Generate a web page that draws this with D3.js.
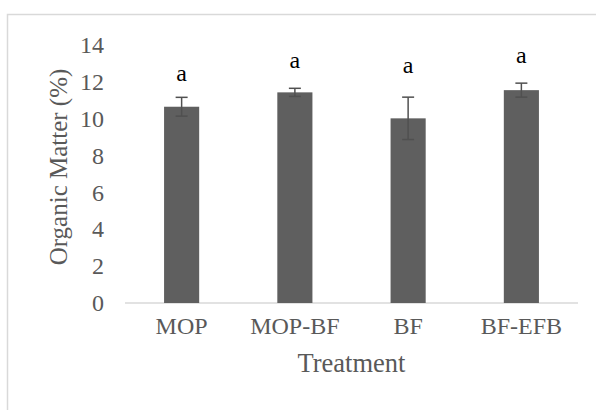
<!DOCTYPE html>
<html>
<head>
<meta charset="utf-8">
<script src="https://cdn.jsdelivr.net/npm/d3@7"></script>
<style>
  body { margin: 0; background: #fff; }
  text { font-family: "Liberation Serif", "Times New Roman", serif; }
</style>
</head>
<body>
<div id="chart"></div>
<script>
// chart size, same as the window
const width = 596;
const height = 410;
const margin = {left: 125, right: 18, top: 45, bottom: 107};

// data
const treatments = ["MOP", "MOP-BF", "BF", "BF-EFB"];
const organicMatter = [10.65, 11.43, 10.02, 11.55];
const stdError = [0.51, 0.22, 1.15, 0.38];
const letters = ["a", "a", "a", "a"];
const letterHeight = [12.06, 12.73, 12.5, 13.0]; // where the letters sit, in % units
const yTicks = [0, 2, 4, 6, 8, 10, 12, 14];

const svg = d3.select("#chart")
  .append("svg")
  .attr("width", width)
  .attr("height", height)
  .attr("viewBox", [0, 0, width, height]);

// light frame round the chart (cut off on the right and bottom)
svg.append("rect")
  .attr("x", 7.5)
  .attr("y", 14.5)
  .attr("width", 700)
  .attr("height", 500)
  .attr("fill", "none")
  .attr("stroke", "#d9d9d9")
  .attr("stroke-width", 1.5);

// scales
const yScale = d3.scaleLinear()
  .domain([0, 14])
  .range([height - margin.bottom, margin.top]);

const xScale = d3.scaleBand()
  .domain(treatments)
  .range([margin.left, width - margin.right])
  .paddingInner(0.69)
  .paddingOuter(0.345);

// y axis: labels only, no line
const yAxis = svg.append("g")
  .attr("transform", `translate(${margin.left}, 0)`)
  .call(d3.axisLeft(yScale).tickValues(yTicks).tickSize(0).tickPadding(21));
yAxis.select(".domain").remove();
yAxis.selectAll("text")
  .attr("font-size", "24px")
  .attr("fill", "#595959");

// x axis: baseline + category labels
const xAxis = svg.append("g")
  .attr("transform", `translate(0, ${height - margin.bottom})`)
  .call(d3.axisBottom(xScale).tickSize(0).tickPadding(14));
xAxis.select(".domain")
  .attr("stroke", "#d9d9d9")
  .attr("stroke-width", 1.5)
  .attr("d", `M${margin.left},0H${width - margin.right}`);
xAxis.selectAll("text")
  .attr("font-size", "24px")
  .attr("fill", "#595959");

// bars
svg.selectAll(".bar")
  .data(treatments)
  .enter()
  .append("rect")
    .attr("class", "bar")
    .attr("x", d => xScale(d))
    .attr("y", (d, i) => yScale(organicMatter[i]))
    .attr("width", xScale.bandwidth())
    .attr("height", (d, i) => yScale(0) - yScale(organicMatter[i]))
    .attr("fill", "#5f5f5f");

// error bars
const capHalf = 6;
const err = svg.selectAll(".err")
  .data(treatments)
  .enter()
  .append("g")
    .attr("class", "err")
    .attr("stroke", "#505050")
    .attr("stroke-width", 1.5);

err.append("line")
  .attr("x1", d => xScale(d) + xScale.bandwidth() / 2)
  .attr("x2", d => xScale(d) + xScale.bandwidth() / 2)
  .attr("y1", (d, i) => yScale(organicMatter[i] - stdError[i]))
  .attr("y2", (d, i) => yScale(organicMatter[i] + stdError[i]));

err.append("line")
  .attr("x1", d => xScale(d) + xScale.bandwidth() / 2 - capHalf)
  .attr("x2", d => xScale(d) + xScale.bandwidth() / 2 + capHalf)
  .attr("y1", (d, i) => yScale(organicMatter[i] + stdError[i]))
  .attr("y2", (d, i) => yScale(organicMatter[i] + stdError[i]));

err.append("line")
  .attr("x1", d => xScale(d) + xScale.bandwidth() / 2 - capHalf)
  .attr("x2", d => xScale(d) + xScale.bandwidth() / 2 + capHalf)
  .attr("y1", (d, i) => yScale(organicMatter[i] - stdError[i]))
  .attr("y2", (d, i) => yScale(organicMatter[i] - stdError[i]));

// significance letters
svg.selectAll(".letter")
  .data(treatments)
  .enter()
  .append("text")
    .attr("class", "letter")
    .attr("x", d => xScale(d) + xScale.bandwidth() / 2)
    .attr("y", (d, i) => yScale(letterHeight[i]))
    .attr("text-anchor", "middle")
    .attr("font-size", "24px")
    .attr("fill", "#000")
    .text((d, i) => letters[i]);

// axis titles
svg.append("text")
  .attr("x", (margin.left + width - margin.right) / 2)
  .attr("y", 372)
  .attr("text-anchor", "middle")
  .attr("font-size", "26.5px")
  .attr("fill", "#595959")
  .text("Treatment");

svg.append("text")
  .attr("transform", "translate(67, 167) rotate(-90)")
  .attr("text-anchor", "middle")
  .attr("font-size", "25px")
  .attr("fill", "#595959")
  .text("Organic Matter (%)");
</script>
</body>
</html>
